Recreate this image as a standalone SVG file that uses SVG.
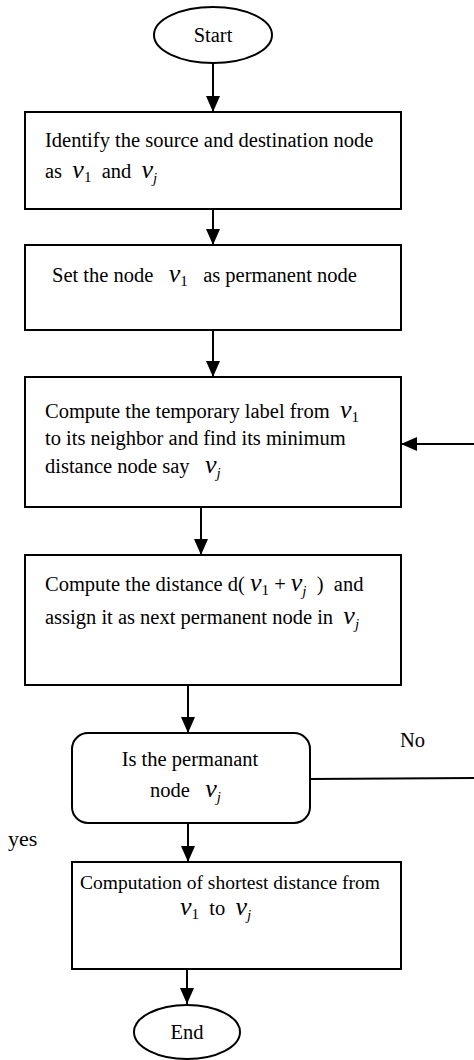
<svg xmlns="http://www.w3.org/2000/svg" width="474" height="1060" viewBox="0 0 474 1060">
<defs>
<marker id="ah" markerWidth="16" markerHeight="14" refX="16" refY="7" orient="auto" markerUnits="userSpaceOnUse"><path d="M0,0 L16,7 L0,14 z" fill="#000"/></marker>
<style>
.box{fill:#fff;stroke:#000;stroke-width:2}
.t{font-family:"Liberation Serif","Times New Roman",serif;font-size:20.5px;fill:#000}
.m{font-style:italic;font-size:26px}
.s{font-size:15px}
.si{font-size:15px;font-style:italic}
.c{stroke:#000;stroke-width:2;fill:none}
</style>
</defs>
<g id="connectors">
<line class="c" x1="213" y1="63" x2="213" y2="112" marker-end="url(#ah)"/>
<line class="c" x1="213" y1="209" x2="213" y2="245" marker-end="url(#ah)"/>
<line class="c" x1="213" y1="330" x2="213" y2="377" marker-end="url(#ah)"/>
<line class="c" x1="201" y1="507" x2="201" y2="555" marker-end="url(#ah)"/>
<line class="c" x1="188" y1="685" x2="188" y2="733" marker-end="url(#ah)"/>
<line class="c" x1="188" y1="823" x2="188" y2="862" marker-end="url(#ah)"/>
<line class="c" x1="187" y1="969" x2="187" y2="1004" marker-end="url(#ah)"/>
<line class="c" x1="310" y1="779" x2="474" y2="778"/>
<line class="c" x1="474" y1="444" x2="401" y2="444" marker-end="url(#ah)"/>
<text class="t" x="400" y="747">No</text>
<text class="t" x="8" y="846" style="font-size:22px">yes</text>
</g>
<g id="start">
<ellipse class="box" cx="213" cy="35" rx="59" ry="28"/>
<text class="t" x="213" y="42" text-anchor="middle">Start</text>
</g>
<g id="identify">
<rect class="box" x="25" y="112" width="376" height="97"/>
<text class="t" x="45" y="147">Identify the source and destination node</text>
<text class="t" x="45" y="178" xml:space="preserve">as  <tspan class="m">v</tspan><tspan class="s" dy="4">1</tspan><tspan dy="-4">  and  </tspan><tspan class="m">v</tspan><tspan class="si" dy="5">j</tspan></text>
</g>
<g id="set">
<rect class="box" x="25" y="245" width="376" height="85"/>
<text class="t" x="52" y="282" xml:space="preserve">Set the node   <tspan class="m">v</tspan><tspan class="s" dy="4">1</tspan><tspan dy="-4">   as permanent node</tspan></text>
</g>
<g id="compute-label">
<rect class="box" x="25" y="377" width="376" height="130"/>
<text class="t" x="45" y="418" xml:space="preserve">Compute the temporary label from  <tspan class="m">v</tspan><tspan class="s" dy="4">1</tspan></text>
<text class="t" x="45" y="445">to its neighbor and find its minimum</text>
<text class="t" x="45" y="473" xml:space="preserve">distance node say   <tspan class="m">v</tspan><tspan class="si" dy="5">j</tspan></text>
</g>
<g id="compute-distance">
<rect class="box" x="25" y="555" width="376" height="130"/>
<text class="t" x="45" y="591" xml:space="preserve">Compute the distance d( <tspan class="m">v</tspan><tspan class="s" dy="4">1</tspan><tspan dy="-4"> + </tspan><tspan class="m">v</tspan><tspan class="si" dy="5">j</tspan><tspan dy="-5">  )  and</tspan></text>
<text class="t" x="45" y="624" xml:space="preserve">assign it as next permanent node in  <tspan class="m">v</tspan><tspan class="si" dy="5">j</tspan></text>
</g>
<g id="decision">
<rect class="box" x="72" y="733" width="238" height="90" rx="16"/>
<text class="t" x="190" y="766" text-anchor="middle">Is the permanant</text>
<text class="t" x="150" y="797" xml:space="preserve">node   <tspan class="m">v</tspan><tspan class="si" dy="5">j</tspan></text>
</g>
<g id="computation">
<rect class="box" x="72" y="862" width="329" height="107"/>
<text class="t" x="230" y="889" text-anchor="middle" style="font-size:19.5px">Computation of shortest distance from</text>
<text class="t" x="180" y="915" xml:space="preserve"><tspan class="m">v</tspan><tspan class="s" dy="4">1</tspan><tspan dy="-4">  to  </tspan><tspan class="m">v</tspan><tspan class="si" dy="5">j</tspan></text>
</g>
<g id="end">
<ellipse class="box" cx="187" cy="1032" rx="53" ry="27"/>
<text class="t" x="187" y="1039" text-anchor="middle">End</text>
</g>
</svg>
